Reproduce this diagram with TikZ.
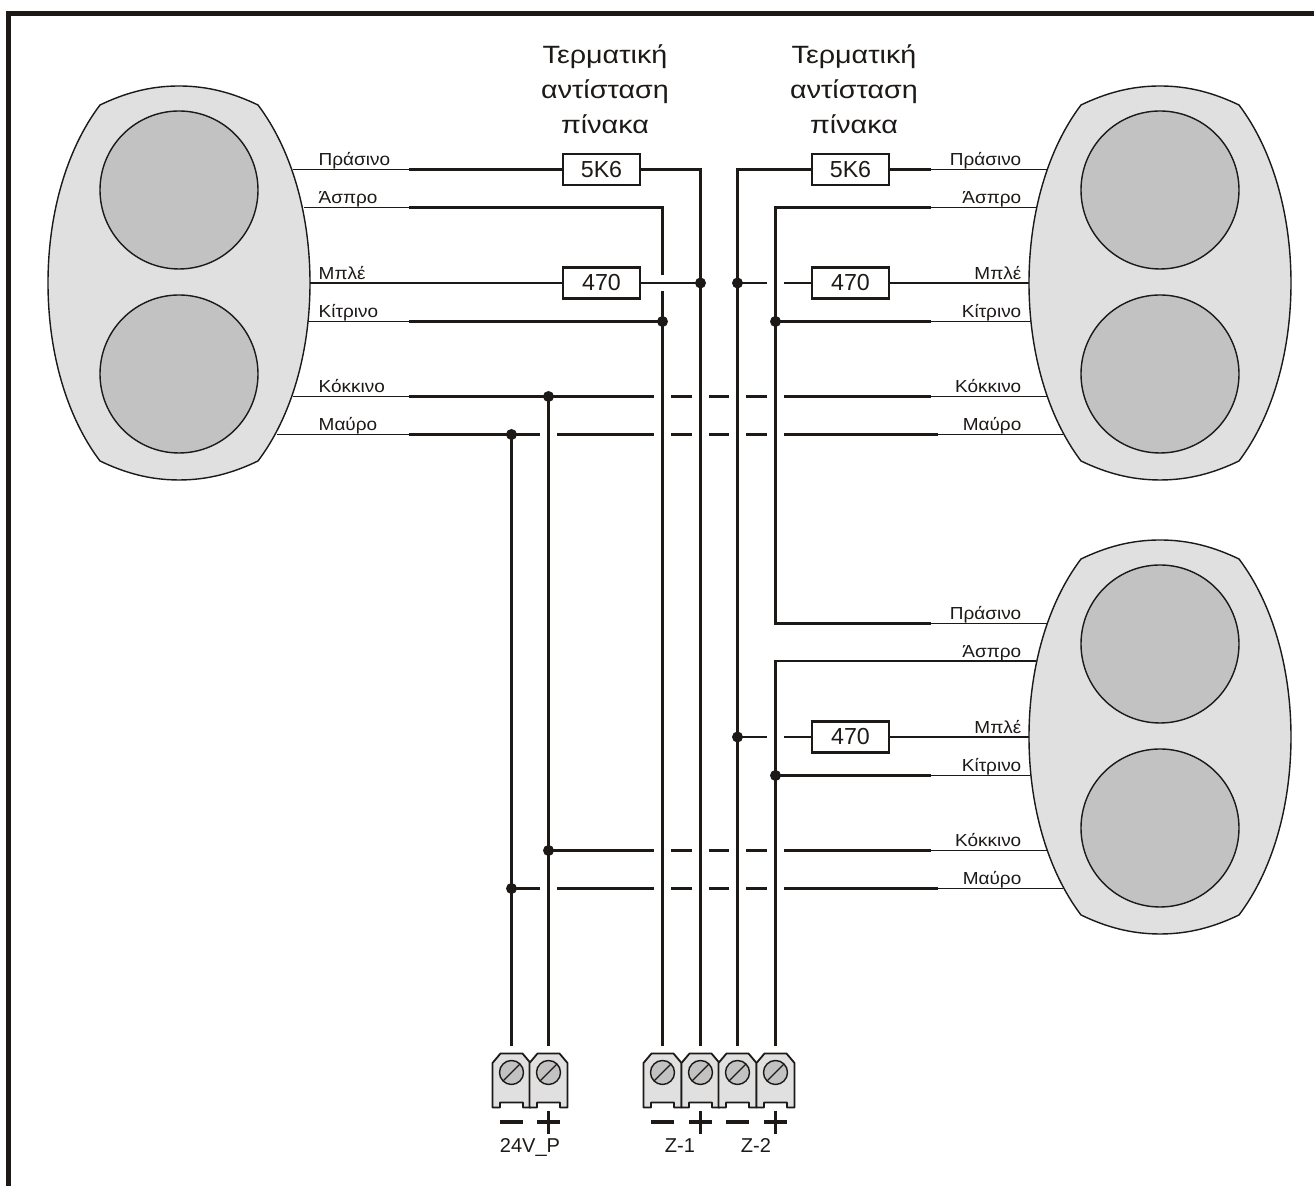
\documentclass[tikz,border=0pt]{standalone}
\usepackage{fontspec}
\setmainfont{Liberation Sans}
\newfontfamily\widefont[FakeStretch=1.09]{Liberation Sans}
\newfontfamily\headfont[FakeStretch=1.15]{Liberation Sans}
\definecolor{ink}{HTML}{1C1917}
\definecolor{shell}{HTML}{DFE0DF}
\definecolor{lens}{HTML}{C1C2C1}
\newcommand{\clamp}[2]{
    \begin{scope}[shift={(#2-511,0)}]
        \coordinate (#1) at (511,1046);
        \draw[housing] (492,1107.5) -- (492,1063) -- (500,1053.5) -- (522,1053.5) -- (530,1063) -- (530,1107.5) -- (522.5,1107.5) -- (522.5,1102.5) -- (499.5,1102.5) -- (499.5,1107.5) -- cycle;
        \draw[screw] (511,1072.5) circle (12);
        \draw[screw, fill=none] (502.5,1081) -- (519.5,1064);
    \end{scope}
}
\begin{document}
\begin{tikzpicture}[x=0.01cm, y=-0.01cm]
    \tikzstyle{outline} = [color=ink, line width=0.05cm]
    \tikzstyle{casing} = [color=ink, line width=0.014cm, fill=shell]
    \tikzstyle{disc} = [color=ink, line width=0.014cm, fill=lens]
    \tikzstyle{housing} = [color=ink, line width=0.018cm, fill=shell, line join=round]
    \tikzstyle{screw} = [color=ink, line width=0.014cm, fill=lens]
    \tikzstyle{lead} = [color=ink, line width=0.012cm]
    \tikzstyle{wire} = [color=ink, line width=0.029cm]
    \tikzstyle{gap} = [color=white, line width=0.16cm]
    \tikzstyle{polarity} = [color=ink, line width=0.034cm]
    \tikzstyle{resistor} = [draw=ink, line width=0.022cm, fill=white, text=ink, minimum width=0.77cm, minimum height=0.31cm, inner sep=0pt, font=\fontsize{6.6}{8}\selectfont]
    \tikzstyle{dot} = [circle, fill=ink, inner sep=0pt, minimum size=0.11cm]
    \tikzstyle{colour left} = [anchor=base west, inner sep=0pt, text=ink, font=\widefont\fontsize{4.95}{6}\selectfont]
    \tikzstyle{colour right} = [anchor=base east, inner sep=0pt, text=ink, font=\widefont\fontsize{4.95}{6}\selectfont]
    \tikzstyle{heading} = [align=center, inner sep=0pt, text=ink, font=\headfont\fontsize{7.1}{10}\selectfont]
    \tikzstyle{terminal label} = [anchor=base, inner sep=0pt, text=ink, font=\fontsize{5.7}{7}\selectfont]
    \useasboundingbox (0,0) rectangle (1314,1186);
    \draw[outline] (8.5,1186) -- (8.5,13.5) -- (1314,13.5);
    % left detector
    \draw[casing] (100,105) .. controls (125,93) and (150,86) .. (179,86) .. controls (208,86) and (233,93) .. (258,105) .. controls (292,150) and (310,215) .. (310,283) .. controls (310,351) and (292,416) .. (258,461) .. controls (233,473) and (208,480) .. (179,480) .. controls (150,480) and (125,473) .. (100,461) .. controls (66,416) and (48,351) .. (48,283) .. controls (48,215) and (66,150) .. (100,105) -- cycle;
    \draw[disc] (179,190) circle (79);
    \draw[disc] (179,374) circle (79);
    % upper right detector
    \begin{scope}[shift={(981,0)}]
        \draw[casing] (100,105) .. controls (125,93) and (150,86) .. (179,86) .. controls (208,86) and (233,93) .. (258,105) .. controls (292,150) and (310,215) .. (310,283) .. controls (310,351) and (292,416) .. (258,461) .. controls (233,473) and (208,480) .. (179,480) .. controls (150,480) and (125,473) .. (100,461) .. controls (66,416) and (48,351) .. (48,283) .. controls (48,215) and (66,150) .. (100,105) -- cycle;
        \draw[disc] (179,190) circle (79);
        \draw[disc] (179,374) circle (79);
    \end{scope}
    % lower right detector
    \begin{scope}[shift={(981,454)}]
        \draw[casing] (100,105) .. controls (125,93) and (150,86) .. (179,86) .. controls (208,86) and (233,93) .. (258,105) .. controls (292,150) and (310,215) .. (310,283) .. controls (310,351) and (292,416) .. (258,461) .. controls (233,473) and (208,480) .. (179,480) .. controls (150,480) and (125,473) .. (100,461) .. controls (66,416) and (48,351) .. (48,283) .. controls (48,215) and (66,150) .. (100,105) -- cycle;
        \draw[disc] (179,190) circle (79);
        \draw[disc] (179,374) circle (79);
    \end{scope}
    % wire ends
    \path (293,169.5) coordinate (ae1) (304,207.5) coordinate (ae2) (310,283) coordinate (ae3) (308,321.5) coordinate (ae4) (293,396.5) coordinate (ae5) (277,434.5) coordinate (ae6);
    \path (409,169.5) coordinate (at1) (409,207.5) coordinate (at2) (409,283) coordinate (at3) (409,321.5) coordinate (at4) (409,396.5) coordinate (at5) (409,434.5) coordinate (at6);
    \path (1047,169.5) coordinate (be1) (1036,207.5) coordinate (be2) (1029,283) coordinate (be3) (1031,321.5) coordinate (be4) (1047,396.5) coordinate (be5) (1063,434.5) coordinate (be6);
    \path (931,169.5) coordinate (bt1) (931,207.5) coordinate (bt2) (931,283) coordinate (bt3) (931,321.5) coordinate (bt4) (931,396.5) coordinate (bt5) (938,434.5) coordinate (bt6);
    \path (1047,623.5) coordinate (ce1) (1036,661) coordinate (ce2) (1029,737) coordinate (ce3) (1031,775.5) coordinate (ce4) (1047,850.5) coordinate (ce5) (1063,888.5) coordinate (ce6);
    \path (931,623.5) coordinate (ct1) (931,661) coordinate (ct2) (931,737) coordinate (ct3) (931,775.5) coordinate (ct4) (931,850.5) coordinate (ct5) (938,888.5) coordinate (ct6);
    % terminals
    \clamp{t1}{511.5}
    \clamp{t2}{548.5}
    \clamp{t3}{662.5}
    \clamp{t4}{700.5}
    \clamp{t5}{737.5}
    \clamp{t6}{775.5}
    % junctions
    \node[dot] (j1) at (700.5,283) {};
    \node[dot] (j2) at (737.5,283) {};
    \node[dot] (j3) at (662.5,321.5) {};
    \node[dot] (j4) at (775.5,321.5) {};
    \node[dot] (j5) at (548.5,396.5) {};
    \node[dot] (j6) at (511.5,434.5) {};
    \node[dot] (j7) at (737.5,737) {};
    \node[dot] (j8) at (775.5,775.5) {};
    \node[dot] (j9) at (548.5,850.5) {};
    \node[dot] (j10) at (511.5,888.5) {};
    % resistors
    \node[resistor] (r1) at (601.5,169.5) {5K6};
    \node[resistor] (r2) at (601.5,283) {470};
    \node[resistor] (r3) at (850.5,169.5) {5K6};
    \node[resistor] (r4) at (850.5,283) {470};
    \node[resistor] (r5) at (850.5,737) {470};
    % thin leads
    \draw[lead] (ae1) -- (at1);
    \draw[lead] (ae2) -- (at2);
    \draw[lead] (ae3) -- (at3);
    \draw[lead] (ae4) -- (at4);
    \draw[lead] (ae5) -- (at5);
    \draw[lead] (ae6) -- (at6);
    \draw[lead] (be1) -- (bt1);
    \draw[lead] (be2) -- (bt2);
    \draw[lead] (be3) -- (bt3);
    \draw[lead] (be4) -- (bt4);
    \draw[lead] (be5) -- (bt5);
    \draw[lead] (be6) -- (bt6);
    \draw[lead] (ce1) -- (ct1);
    \draw[lead] (ce2) -- (ct2);
    \draw[lead] (ce3) -- (ct3);
    \draw[lead] (ce4) -- (ct4);
    \draw[lead] (ce5) -- (ct5);
    \draw[lead] (ce6) -- (ct6);
    % horizontal wires that are broken at the crossings
    \draw[wire] (at5) -- (bt5);
    \draw[wire] (at6) -- (bt6);
    \draw[wire] (j9.center) -- (ct5);
    \draw[wire] (j10.center) -- (ct6);
    \draw[wire] (j2.center) -- (r4);
    \draw[wire] (j7.center) -- (r5);
    \draw[gap] (548.5,428) -- (548.5,441) (548.5,882) -- (548.5,895);
    \draw[gap] (662.5,390) -- (662.5,441) (662.5,844) -- (662.5,895);
    \draw[gap] (700.5,390) -- (700.5,441) (700.5,844) -- (700.5,895);
    \draw[gap] (737.5,390) -- (737.5,441) (737.5,844) -- (737.5,895);
    \draw[gap] (775.5,277) -- (775.5,289) (775.5,390) -- (775.5,441) (775.5,731) -- (775.5,743) (775.5,844) -- (775.5,895);
    \draw[wire] (at1) -- (r1);
    \draw[wire] (r3) -- (bt1);
    \draw[wire] (r4) -- (bt3);
    \draw[wire] (r5) -- (ct3);
    % verticals
    \draw[wire] (j6.center) -- (t1);
    \draw[wire] (j5.center) -- (t2);
    \draw[wire] (at2) -| (t3);
    \draw[wire] (r1) -| (t4);
    \draw[wire] (r3) -| (t5);
    \draw[wire] (bt2) -| (j4.center) |- (ct1);
    \draw[wire] (ct2) -| (t6);
    % this one passes over the vertical
    \draw[gap] (654,283) -- (671,283);
    \draw[wire] (at3) -- (r2);
    \draw[wire] (r2) -- (j1.center);
    \draw[wire] (at4) -- (j3.center);
    \draw[wire] (j4.center) -- (bt4);
    \draw[wire] (j8.center) -- (ct4);
    % colours
    \node[colour left] (a1) at (318,166) {Πράσινο};
    \node[colour left] (a2) at (318,204) {Άσπρο};
    \node[colour left] (a3) at (318,279.5) {Μπλέ};
    \node[colour left] (a4) at (318,317.5) {Κίτρινο};
    \node[colour left] (a5) at (318,393) {Κόκκινο};
    \node[colour left] (a6) at (318,430.5) {Μαύρο};
    \node[colour right] (b1) at (1022,166) {Πράσινο};
    \node[colour right] (b2) at (1022,204) {Άσπρο};
    \node[colour right] (b3) at (1022,279.5) {Μπλέ};
    \node[colour right] (b4) at (1022,317.5) {Κίτρινο};
    \node[colour right] (b5) at (1022,393) {Κόκκινο};
    \node[colour right] (b6) at (1022,430.5) {Μαύρο};
    \node[colour right] (c1) at (1022,620) {Πράσινο};
    \node[colour right] (c2) at (1022,658) {Άσπρο};
    \node[colour right] (c3) at (1022,733.5) {Μπλέ};
    \node[colour right] (c4) at (1022,771.5) {Κίτρινο};
    \node[colour right] (c5) at (1022,847) {Κόκκινο};
    \node[colour right] (c6) at (1022,884.5) {Μαύρο};
    % headings
    \node[heading] (head1) at (605,89) {Τερματική\\αντίσταση\\πίνακα};
    \node[heading] (head2) at (854,89) {Τερματική\\αντίσταση\\πίνακα};
    % polarity
    \draw[polarity] (499.5,1122) -- (522.5,1122);
    \draw[polarity] (537,1122) -- (560,1122) (548.5,1111) -- (548.5,1134);
    \draw[polarity] (651,1122) -- (674,1122);
    \draw[polarity] (689,1122) -- (712,1122) (700.5,1111) -- (700.5,1134);
    \draw[polarity] (726,1122) -- (749,1122);
    \draw[polarity] (764,1122) -- (787,1122) (775.5,1111) -- (775.5,1134);
    \node[terminal label] (l24) at (530,1153) {24V\_P};
    \node[terminal label] (z1) at (680,1153) {Z-1};
    \node[terminal label] (z2) at (756,1153) {Z-2};
\end{tikzpicture}
\end{document}
